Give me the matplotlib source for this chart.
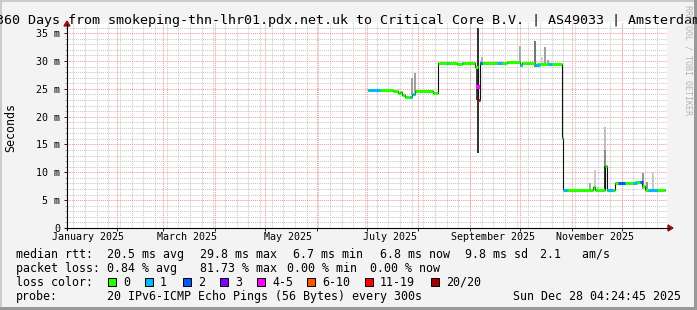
import matplotlib
matplotlib.use("Agg")
import matplotlib.pyplot as plt
import matplotlib.dates as mdates
from matplotlib.patches import Rectangle, Polygon
import numpy as np

plt.rcParams["font.family"] = ["DejaVu Sans Mono"]

# time window of the graph
t_start = "2025-01-02 04:24:45"
t_end = "2025-12-28 04:24:45"

# median rtt (ms), step changes
med_dates = ["2025-07-02", "2025-07-17", "2025-07-20", "2025-07-21", "2025-07-22",
             "2025-07-24", "2025-07-28", "2025-07-30", "2025-08-10", "2025-08-13",
             "2025-08-24", "2025-08-27", "2025-09-04", "2025-09-06", "2025-09-07",
             "2025-09-23", "2025-10-01", "2025-10-02", "2025-10-10", "2025-10-11",
             "2025-10-26", "2025-10-27", "2025-11-14", "2025-11-15", "2025-11-21",
             "2025-11-22", "2025-11-27", "2025-12-05", "2025-12-09", "2025-12-13",
             "2025-12-15", "2025-12-27"]
med_ms = [24.8, 24.6, 24.2, 24.5, 23.8, 23.6, 24.0, 24.6, 24.3, 29.6,
          29.4, 29.6, 29.0, 23.0, 29.7, 29.85, 29.3, 29.6, 29.2, 29.5,
          16.1, 6.8, 7.4, 6.8, 11.1, 6.8, 8.1, 8.0, 8.2, 7.5,
          6.8, 6.8]
# loss bucket of each step segment (index into loss_labels)
med_loss = [0, 0, 0, 0, 0, 0, 0, 0, 0, 0,
            0, 0, 0, 6, 0, 0, 0, 0, 0, 0,
            0, 0, 0, 0, 0, 0, 0, 0, 0, 0,
            0]

# short periods with some packet loss on the median line
lossmark_start = ["2025-07-02", "2025-07-27", "2025-07-29", "2025-08-18", "2025-08-27",
                  "2025-09-07", "2025-09-17", "2025-10-01", "2025-10-10", "2025-10-18",
                  "2025-10-27", "2025-11-22", "2025-11-23", "2025-11-29", "2025-12-08",
                  "2025-12-12", "2025-12-17"]
lossmark_end = ["2025-07-09", "2025-07-28", "2025-07-30", "2025-08-19", "2025-08-28",
                "2025-09-08", "2025-09-20", "2025-10-02", "2025-10-13", "2025-10-20",
                "2025-10-29", "2025-11-23", "2025-11-26", "2025-12-03", "2025-12-10",
                "2025-12-14", "2025-12-22"]
lossmark_bucket = [1, 1, 1, 1, 1, 2, 1, 1, 1, 1, 1, 1, 1, 2, 1, 2, 1]

# single loss dots
dot_dates = ["2025-09-06"]
dot_ms = [25.3]
dot_bucket = [4]

# smoke (spread of the pings), darkness 0..1
smoke_dates = ["2025-07-28", "2025-07-30", "2025-09-05", "2025-09-06", "2025-09-06",
               "2025-09-08", "2025-10-01", "2025-10-10", "2025-10-14", "2025-10-16",
               "2025-10-18", "2025-11-12", "2025-11-15", "2025-11-17", "2025-11-21",
               "2025-11-21", "2025-11-21", "2025-12-14", "2025-12-16", "2025-12-20"]
smoke_lo = [23.9, 24.4, 23.0, 23.0, 13.5, 29.6, 29.6, 29.0, 29.6, 29.6,
            29.4, 6.8, 6.8, 6.8, 6.8, 11.1, 14.0, 7.0, 6.8, 6.8]
smoke_hi = [26.9, 27.8, 28.9, 28.9, 35.9, 30.8, 32.6, 33.6, 30.7, 32.5,
            30.2, 8.1, 10.4, 7.4, 11.1, 14.0, 18.2, 9.9, 8.3, 10.1]
smoke_dark = [0.45, 0.45, 0.9, 0.9, 0.95, 0.35, 0.4, 0.65, 0.2, 0.45,
              0.45, 0.4, 0.25, 0.25, 0.95, 0.55, 0.3, 0.5, 0.5, 0.25]

loss_labels = ["0", "1", "2", "3", "4-5", "6-10", "11-19", "20/20"]
loss_colors = ["#26ff00", "#00b8ff", "#0059ff", "#7e00ff", "#ff00ff", "#ff5500",
               "#ff0000", "#a10000"]

month_grid = ["2025-%02d-01" % m for m in range(2, 13)]
label_dates = ["2025-01-15", "2025-03-15", "2025-05-15", "2025-07-15",
               "2025-09-15", "2025-11-15"]
label_text = ["January 2025", "March 2025", "May 2025", "July 2025",
              "September 2025", "November 2025"]

title = "360 Days from smokeping-thn-lhr01.pdx.net.uk to Critical Core B.V. | AS49033 | Amsterdam"

W, H, DPI = 697, 310, 100
L, R, T, B = 67, 667, 22, 228


def fx(x):
    return x / W


def fy(y):
    return 1 - y / H


fig = plt.figure(figsize=(W / DPI, H / DPI), dpi=DPI, facecolor="#f3f3f3")
ax = fig.add_axes([fx(L), fy(B), (R - L) / W, (B - T) / H])
ax.set_facecolor("white")

x0 = mdates.datestr2num(t_start)
x1 = mdates.datestr2num(t_end)
ax.set_xlim(x0, x1)
ax.set_ylim(0, 37)

# grid
dot = (0, (1, 1))
weeks = np.arange(mdates.datestr2num("2025-01-06"), x1, 7)
for w in weeks:
    ax.axvline(w, color="#c8c8c8", lw=0.75, ls=dot, zorder=0.5)
for v in range(1, 37):
    if v % 5:
        ax.axhline(v, color="#c8c8c8", lw=0.75, ls=dot, zorder=0.5)
for m in mdates.datestr2num(month_grid):
    ax.axvline(m, color="#f29a9a", lw=0.75, ls=dot, zorder=0.6)
for v in range(5, 37, 5):
    ax.axhline(v, color="#f29a9a", lw=0.75, ls=dot, zorder=0.6)

# smoke
sx = mdates.datestr2num(smoke_dates)
scol = [str(1 - 0.85 * d) for d in smoke_dark]
ax.vlines(sx, smoke_lo, smoke_hi, colors=scol, lw=1.4, zorder=2)

# median line
mx = mdates.datestr2num(med_dates)
ax.step(mx, med_ms, where="post", color="#111111", lw=0.8, zorder=3)
ax.hlines(med_ms[:-1], mx[:-1], mx[1:], colors=[loss_colors[b] for b in med_loss],
          lw=2.2, zorder=4)
ls = mdates.datestr2num(lossmark_start)
le = mdates.datestr2num(lossmark_end)
idx = np.searchsorted(mx, ls, side="right") - 1
ax.hlines(np.array(med_ms)[idx], ls, le,
          colors=[loss_colors[b] for b in lossmark_bucket], lw=2.2, zorder=5)
ax.scatter(mdates.datestr2num(dot_dates), dot_ms, marker="s", s=5,
           c=[loss_colors[b] for b in dot_bucket], zorder=6, linewidths=0)

# axes
for s in ["top", "right", "bottom", "left"]:
    ax.spines[s].set_visible(False)
ax.set_yticks(range(0, 36, 5))
ax.set_yticklabels(["0"] + ["%d m" % v for v in range(5, 36, 5)])
ax.set_yticks(range(0, 37), minor=True)
ax.set_xticks(mdates.datestr2num(month_grid))
ax.set_xticklabels([])
ax.set_xticks(mdates.datestr2num(label_dates), minor=True)
ax.set_xticklabels(label_text, minor=True)
ax.tick_params(axis="y", which="major", length=2.2, width=0.7, pad=2.9,
               labelsize=7.2, color="#222222")
ax.tick_params(axis="y", which="minor", length=1.4, width=0.6, color="#999999")
ax.tick_params(axis="x", which="major", length=2.2, width=0.7, color="#222222")
ax.tick_params(axis="x", which="minor", length=0, pad=3.2, labelsize=7.2)

# axis lines with arrows
arrow = "#9a1010"
fig.add_artist(plt.Line2D([fx(L), fx(L)], [fy(B + 2), fy(T + 2)], color="black",
                          lw=0.8))
fig.add_artist(plt.Line2D([fx(L - 2), fx(R + 2)], [fy(B), fy(B)], color="black",
                          lw=0.8))
fig.add_artist(Polygon([(fx(L - 3), fy(T + 4)), (fx(L + 3), fy(T + 4)),
                        (fx(L), fy(T - 1))], closed=True, color=arrow))
fig.add_artist(Polygon([(fx(R + 1), fy(B - 3)), (fx(R + 1), fy(B + 3)),
                        (fx(R + 6), fy(B))], closed=True, color=arrow))

# frame
fig.add_artist(Rectangle((0, fy(2)), 1, 2 / H, color="#cbcbcb", lw=0))
fig.add_artist(Rectangle((0, 0), fx(2), 1, color="#cbcbcb", lw=0))
fig.add_artist(Rectangle((fx(W - 3), 0), fx(3), 1, color="#999999", lw=0))
fig.add_artist(Rectangle((0, 0), 1, 3 / H, color="#999999", lw=0))

fig.text(fx(-4), fy(24), title, ha="left", va="baseline", fontsize=9.6)
fig.text(fx(11), fy(127), "Seconds", rotation=90, ha="center", va="center",
         fontsize=8.4)
fig.text(fx(688), fy(5), "RRDTOOL / TOBI OETIKER", rotation=270, ha="center",
         va="top", fontsize=6, color="#b4b4b4")

# legend
fs = 8.4
rows = [
    (257.7, [(16, "median rtt:"), (107, "20.5 ms avg"), (200, "29.8 ms max"),
             (293, "6.7 ms min"), (380, "6.8 ms now"), (465, "9.8 ms sd"),
             (540, "2.1   am/s")]),
    (271.7, [(16, "packet loss:"), (107, "0.84 % avg"), (200, "81.73 % max"),
             (287, "0.00 % min"), (370, "0.00 % now")]),
    (285.7, [(16, "loss color:")]),
    (299.7, [(16, "probe:"), (107, "20 IPv6-ICMP Echo Pings (56 Bytes) every 300s"),
             (513, "Sun Dec 28 04:24:45 2025")]),
]
for yb, items in rows:
    for xp, s in items:
        fig.text(fx(xp), fy(yb), s, ha="left", va="baseline", fontsize=fs)

box_x = [108, 145, 183, 220, 257, 307, 365, 431]
for bx, lab, col in zip(box_x, loss_labels, loss_colors):
    fig.add_artist(Rectangle((fx(bx), fy(286)), 8 / W, 8 / H, facecolor=col,
                             edgecolor="black", lw=0.7))
    fig.text(fx(bx + 15), fy(285.7), lab, ha="left", va="baseline", fontsize=fs)

fig.savefig("out.png", dpi=DPI, facecolor=fig.get_facecolor())
